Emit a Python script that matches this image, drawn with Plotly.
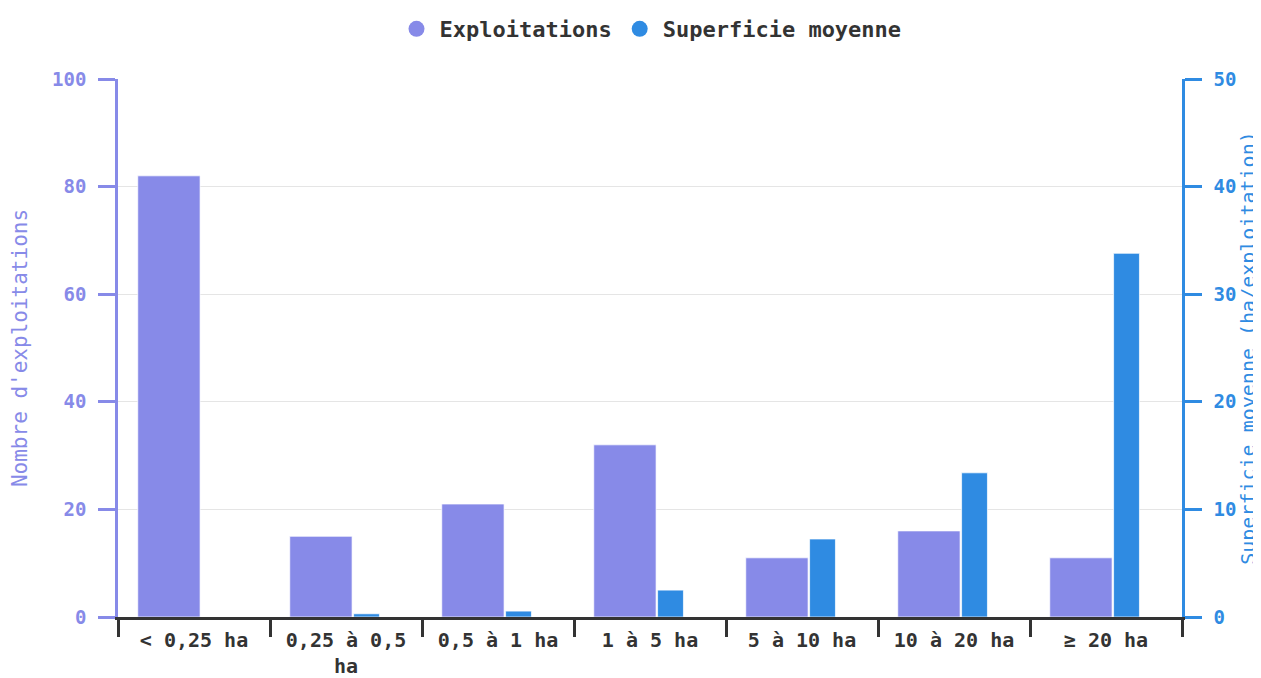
import plotly.graph_objects as go

# données
categories = ["< 0,25 ha", "0,25 à 0,5<br>ha", "0,5 à 1 ha", "1 à 5 ha",
              "5 à 10 ha", "10 à 20 ha", "≥ 20 ha"]
exploitations = [82, 15, 21, 32, 11, 16, 11]
superficie_moyenne = [0, 0.3, 0.55, 2.5, 7.25, 13.4, 33.8]

purple = "#878AE8"
blue = "#2F8BE2"
font_mono = "DejaVu Sans Mono"

fig = go.Figure()

fig.add_trace(go.Bar(
    x=categories, y=exploitations, name="Exploitations",
    marker=dict(color=purple, line=dict(color="rgba(255,255,255,0.7)", width=1)),
    offset=-0.37, width=0.41, showlegend=False, yaxis="y"))

fig.add_trace(go.Bar(
    x=categories, y=superficie_moyenne, name="Superficie moyenne",
    marker=dict(color=blue, line=dict(color="rgba(255,255,255,0.7)", width=1)),
    offset=0.05, width=0.17, showlegend=False, yaxis="y2"))

# entrées de légende rondes
for name, col in [("Exploitations", purple), ("Superficie moyenne", blue)]:
    fig.add_trace(go.Scatter(x=[categories[0]], y=[None], mode="markers", name=name,
                             marker=dict(color=col, size=20, symbol="circle")))

# la page ajoute une marge de 8 px autour du graphique
fig.update_layout(
    width=1261, height=678,
    margin=dict(l=110, r=87, t=71, b=69, autoexpand=False),
    paper_bgcolor="white", plot_bgcolor="white",
    barmode="overlay",
    font=dict(family=font_mono, size=18, color="#333333"),
    legend=dict(orientation="h", x=0.5, xanchor="center", y=1, yanchor="top",
                yref="container", itemsizing="trace", itemwidth=36,
                font=dict(size=22, weight="bold", color="#333333")),
    xaxis=dict(showline=True, linecolor="#333333", linewidth=2.5, automargin=False,
               ticks="outside", tickson="boundaries", ticklen=17, tickwidth=2.5,
               ticklabelstandoff=3,
               tickcolor="#333333", tickfont=dict(size=20, weight="bold", color="#333333"),
               showgrid=False),
    yaxis=dict(range=[0, 100], dtick=20, showline=True, linecolor=purple, linewidth=2.5,
               automargin=False, ticks="outside", ticklen=17, tickwidth=2.5, tickcolor=purple,
               ticklabelstandoff=8,
               tickfont=dict(size=19, weight="bold", color=purple),
               gridcolor="#e5e5e5", gridwidth=1, zeroline=False,
               title=dict(text="Nombre d'exploitations", font=dict(size=21, color=purple),
                          standoff=19)),
    yaxis2=dict(range=[0, 50], dtick=10, overlaying="y", side="right", showline=True,
                automargin=False, linecolor=blue, linewidth=2.5, ticks="outside", ticklen=17,
                tickwidth=2.5, ticklabelstandoff=8,
                tickcolor=blue, tickfont=dict(size=19, weight="bold", color=blue),
                showgrid=False, zeroline=False,
                title=dict(text="Superficie moyenne (ha/exploitation)",
                           font=dict(size=20, color=blue), standoff=2)),
)

fig.write_html("out.html")
